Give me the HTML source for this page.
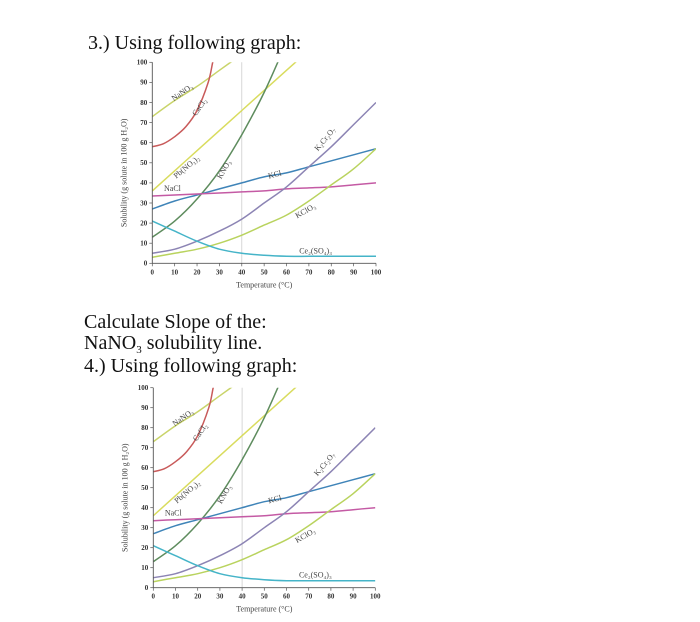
<!DOCTYPE html>
<html><head><meta charset="utf-8"><style>
html,body{margin:0;padding:0;background:#fff;width:700px;height:622px;overflow:hidden}
svg{position:absolute;left:0;top:0}
.t{font-family:"Liberation Serif",serif;font-size:20px;fill:#111}
.tk{font-family:"Liberation Serif",serif;font-size:7px;fill:#333;font-weight:bold}
.lb{font-family:"Liberation Serif",serif;font-size:8px;fill:#444}
</style></head><body>
<svg id="s" width="700" height="622">
<text class="t" x="88" y="49">3.) Using following graph:</text>
<text class="t" x="84" y="328">Calculate Slope of the:</text>
<text class="t" x="84" y="349">NaNO<tspan font-size="11" dy="4">3</tspan><tspan dy="-4">  solubility line.</tspan></text>
<text class="t" x="84" y="372">4.) Using following graph:</text>
</svg>
<script>
const temps=[0,10,20,30,40,50,60,70,80,90,100];
const nano3=[73,81,88,96,104,null,null,null,null,null,null];
const cacl2T=[0,5,10,15,20,25,27,28];
const cacl2=[58,59.5,63,68,76,90,100,104];
const pbno3=[36,46,56,66,76,86,96,106,null,null,null];
const kno3=[13,21,32,46,64,85,110,null,null,null,null];
const kcl=[27,31,34,37,40,43,45,48,51,54,57];
const nacl=[33.5,34,34.5,35,35.5,36,37,37.5,38,39,40];
const k2cr2o7=[5,7,11,16,22,30,38,48,58,69,80];
const kclo3=[3,5,7,10,14,19,24,31,39,47,57];
const ce2so4=[21,16,11,7,5,4,3.5,3.5,3.5,3.5,3.5];
const xTicks=[0,10,20,30,40,50,60,70,80,90,100];
const yTicks=[0,10,20,30,40,50,60,70,80,90,100];
const NS="http://www.w3.org/2000/svg";
const svg=document.getElementById('s');
function mk(tag,attrs,parent){const e=document.createElementNS(NS,tag);for(const k in attrs)e.setAttribute(k,attrs[k]);(parent||svg).appendChild(e);return e;}
function smooth(pts){
  if(pts.length<2)return '';
  let d='M'+pts[0][0].toFixed(1)+','+pts[0][1].toFixed(1);
  for(let i=0;i<pts.length-1;i++){
    const p0=pts[i-1]||pts[i],p1=pts[i],p2=pts[i+1],p3=pts[i+2]||p2;
    const c1=[p1[0]+(p2[0]-p0[0])/6,p1[1]+(p2[1]-p0[1])/6];
    const c2=[p2[0]-(p3[0]-p1[0])/6,p2[1]-(p3[1]-p1[1])/6];
    d+='C'+c1.map(v=>v.toFixed(1)).join(',')+' '+c2.map(v=>v.toFixed(1)).join(',')+' '+p2[0].toFixed(1)+','+p2[1].toFixed(1);
  }
  return d;
}
function chart(id,x0,x1,y0,y1){
  const sx=v=>x0+(x1-x0)*v/100, sy=v=>y0-(y0-y1)*v/100;
  const g=mk('g',{});
  
  
  const cp=mk('clipPath',{id:'cp'+id},g);
  mk('rect',{x:x0,y:y1,width:x1-x0,height:y0-y1},cp);
  const gl=mk('line',{x1:sx(40),x2:sx(40),y1:y0,y2:y1,stroke:'#ccc','stroke-width':0.8},g);
  
  
  const series=[[temps,nano3,'#c9d46a','nano3'],[cacl2T,cacl2,'#c85a5a','cacl2'],[temps,pbno3,'#d9dc5e','pbno3'],[temps,kno3,'#5e8c5e','kno3'],[temps,kcl,'#3f84b8','kcl'],[temps,nacl,'#c45aa4','nacl'],[temps,k2cr2o7,'#8c84b4','k2cr2o7'],[temps,kclo3,'#b9d35e','kclo3'],[temps,ce2so4,'#45b4c8','ce2so4']];
  for(const [xs,ys,c,n] of series){
    const pts=[];xs.forEach((t,i)=>{if(ys[i]!=null)pts.push([sx(t),sy(ys[i])]);});
    const p=mk('path',{d:smooth(pts),fill:'none',stroke:c,'stroke-width':1.5,'clip-path':'url(#cp'+id+')'},g);
    
    
  }
  mk('line',{x1:x0,x2:x0,y1:y1,y2:y0,stroke:'#555','stroke-width':0.9},g);
  mk('line',{x1:x0,x2:x1,y1:y0,y2:y0,stroke:'#555','stroke-width':0.9},g);
  xTicks.forEach(v=>{mk('line',{x1:sx(v),x2:sx(v),y1:y0,y2:y0+3,stroke:'#555','stroke-width':0.7},g);
    const t=mk('text',{x:sx(v),y:y0+11,'text-anchor':'middle',class:'tk'},g);t.textContent=v;
    
    });
  yTicks.forEach(v=>{mk('line',{x1:x0-3,x2:x0,y1:sy(v),y2:sy(v),stroke:'#555','stroke-width':0.7},g);
    const t=mk('text',{x:x0-5,y:sy(v)+2.3,'text-anchor':'end',class:'tk'},g);t.textContent=v;
    
    });
  const xt=mk('text',{x:sx(50),y:y0+24,'text-anchor':'middle',class:'lb'},g);xt.textContent='Temperature (°C)';
  
  
  const yt=mk('text',{x:0,y:0,'text-anchor':'middle',class:'lb',transform:`translate(${x0-26},${sy(45)}) rotate(-90)`},g);yt.textContent='Solubility (g solute in 100 g H₂O)';
  
  
  const labels=[['NaNO₃',14,84,-35],['CaCl₂',22,77,-55],['Pb(NO₃)₂',16,47,-40],['KNO₃',33,46,-60],['KCl',55,43,-15],['NaCl',9,36,0],['K₂Cr₂O₇',78,61,-50],['KClO₃',69,25,-30],['Ce₂(SO₄)₃',73,5,0]];
  labels.forEach(([s,x,y,r])=>{const t=mk('text',{x:0,y:0,'text-anchor':'middle',class:'lb',transform:`translate(${sx(x)},${sy(y)}) rotate(${r})`},g);t.textContent=s;
    
    });
}
chart('1',152.3,376,263.3,62.3);
chart('2',153.3,375.3,587.7,387.7);
</script>
</body></html>
